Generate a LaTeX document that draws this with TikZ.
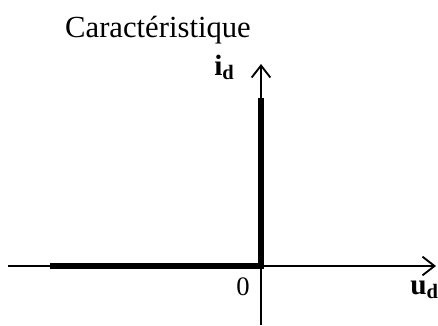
\documentclass[tikz,border=0pt]{standalone}
\usepackage{fontspec}
\setmainfont{Liberation Serif}
\usetikzlibrary{arrows.meta,positioning}

\begin{document}
\begin{tikzpicture}[x=0.75pt,y=-0.75pt,>={Straight Barb[length=9pt,width=14pt,line width=1.4pt]},
    axis/.style={->,line width=1.4pt},
    branch/.style={line width=4.5pt,line join=miter},
    lbl/.style={font=\fontsize{22}{24}\selectfont\bfseries,inner sep=0pt}]
    \useasboundingbox (0,0) rectangle (438,325);
    % axes
    \coordinate (o) at (261,266);
    \coordinate (xmin) at (8,266);
    \coordinate (xmax) at (436,266);
    \coordinate (ymin) at (261,325);
    \coordinate (ymax) at (261,64);
    \coordinate (xk) at (50,266);
    \coordinate (yk) at (261,98);
    \draw[axis] (xmin) -- (xmax);
    \draw[axis] (ymin) -- (ymax);
    % ideal diode
    \draw[branch] (xk) -- (o) -- (yk);
    % labels
    \node[anchor=base,font=\fontsize{23}{26}\selectfont,inner sep=0pt] (title) at (158,37) {Caractéristique};
    \node[lbl,anchor=base west] (id) at (214,75) {i\textsubscript{d}};
    \node[lbl,anchor=base west] (ud) at (410,294) {u\textsubscript{d}};
    \node[anchor=base,font=\fontsize{20}{22}\selectfont,inner sep=0pt] (zero) at (243,295) {0};
\end{tikzpicture}
\end{document}
